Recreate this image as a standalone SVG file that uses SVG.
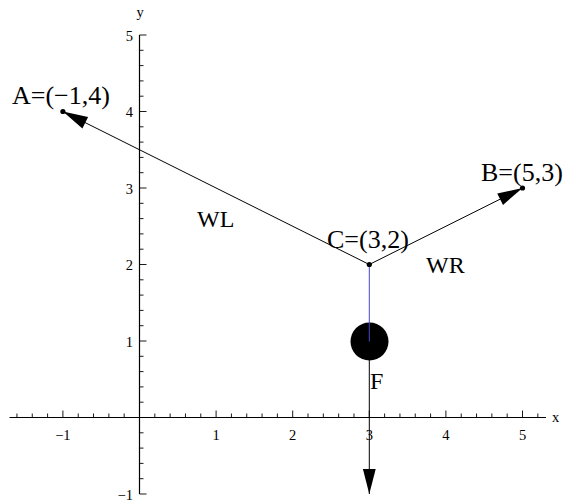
<svg xmlns="http://www.w3.org/2000/svg" width="563" height="501" viewBox="0 0 563 501">
<defs>
<style>
.ax{stroke:#000;stroke-width:1.2;fill:none}
.tk{stroke:#000;stroke-width:0.9;fill:none}
.ln{stroke:#000;stroke-width:1;fill:none}
.tl{font-family:"Liberation Serif","Times New Roman",serif;font-size:14.5px;fill:#000}
.lb{font-family:"Liberation Serif","Times New Roman",serif;font-size:26px;fill:#000}
.wl{font-family:"Liberation Serif","Times New Roman",serif;font-size:24px;fill:#000}
</style>
<marker id="ah" markerUnits="userSpaceOnUse" markerWidth="30" markerHeight="16" viewBox="-26 -8 27 16" refX="0" refY="0" orient="auto">
<path d="M0,0 L-25,-6.4 L-25,6.4 Z" fill="#000"/>
</marker>
</defs>
<rect width="563" height="501" fill="#fff"/>
<g id="axes">
<path class="ax" d="M9.5 417.5H546M139.5 35V494"/>
<path class="tk" d="M16.94 417.5v-4M32.26 417.5v-4M47.58 417.5v-4M62.9 417.5v-7M78.22 417.5v-4M93.54 417.5v-4M108.86 417.5v-4M124.18 417.5v-4M154.82 417.5v-4M170.14 417.5v-4M185.46 417.5v-4M200.78 417.5v-4M216.1 417.5v-7M231.42 417.5v-4M246.74 417.5v-4M262.06 417.5v-4M277.38 417.5v-4M292.7 417.5v-7M308.02 417.5v-4M323.34 417.5v-4M338.66 417.5v-4M353.98 417.5v-4M369.3 417.5v-7M384.62 417.5v-4M399.94 417.5v-4M415.26 417.5v-4M430.58 417.5v-4M445.9 417.5v-7M461.22 417.5v-4M476.54 417.5v-4M491.86 417.5v-4M507.18 417.5v-4M522.5 417.5v-7M537.82 417.5v-4"/>
<path class="tk" d="M139.5 35h7M139.5 50.3h4M139.5 65.6h4M139.5 80.9h4M139.5 96.2h4M139.5 111.5h7M139.5 126.8h4M139.5 142.1h4M139.5 157.4h4M139.5 172.7h4M139.5 188h7M139.5 203.3h4M139.5 218.6h4M139.5 233.9h4M139.5 249.2h4M139.5 264.5h7M139.5 279.8h4M139.5 295.1h4M139.5 310.4h4M139.5 325.7h4M139.5 341h7M139.5 356.3h4M139.5 371.6h4M139.5 386.9h4M139.5 402.2h4M139.5 432.8h4M139.5 448.1h4M139.5 463.4h4M139.5 478.7h4M139.5 494h7"/>
<g class="tl" text-anchor="middle">
<text x="62.9" y="440">−1</text>
<text x="216.1" y="440">1</text>
<text x="292.7" y="440">2</text>
<text x="369.3" y="440">3</text>
<text x="445.9" y="440">4</text>
<text x="522.5" y="440">5</text>
<text x="140" y="17">y</text>
</g>
<g class="tl" text-anchor="end">
<text x="133" y="40.5">5</text>
<text x="133" y="117">4</text>
<text x="133" y="193.5">3</text>
<text x="133" y="270">2</text>
<text x="133" y="346.5">1</text>
<text x="133" y="499.5">−1</text>
</g>
<text class="tl" x="552" y="422">x</text>
</g>
<g id="connectors">
<line id="WL-line" class="ln" x1="369.3" y1="264.5" x2="62.9" y2="111.5" marker-end="url(#ah)"/>
<line id="WR-line" class="ln" x1="369.3" y1="264.5" x2="522.5" y2="188" marker-end="url(#ah)"/>
<line id="F-line" class="ln" x1="369.3" y1="341" x2="369.3" y2="494" marker-end="url(#ah)"/>
</g>
<g id="mass">
<circle cx="369.5" cy="341.5" r="19" fill="#000"/>
<line x1="369.3" y1="264.5" x2="369.3" y2="341.5" stroke="#4646c8" stroke-width="1"/>
</g>
<g id="pointA">
<circle cx="62.9" cy="111.5" r="2.6" fill="#000"/>
<text class="lb" x="12" y="104">A=(−1,4)</text>
</g>
<g id="pointB">
<circle cx="522.5" cy="188" r="2.6" fill="#000"/>
<text class="lb" x="481" y="181">B=(5,3)</text>
</g>
<g id="pointC">
<circle cx="369.3" cy="264.5" r="2.6" fill="#000"/>
<text class="lb" x="327" y="248">C=(3,2)</text>
</g>
<g id="labels">
<text class="wl" x="197" y="227">WL</text>
<text class="wl" x="426" y="273">WR</text>
<text class="wl" x="370" y="389">F</text>
</g>
</svg>
